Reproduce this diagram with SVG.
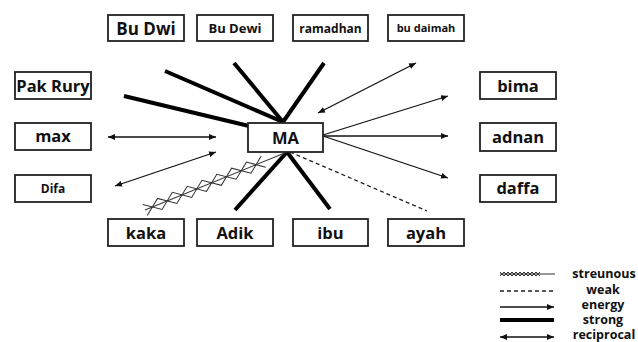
<svg xmlns="http://www.w3.org/2000/svg" width="638" height="342" viewBox="0 0 638 342">
<style>
.box{fill:#fff;stroke:#222;stroke-width:1.8}
.t{font-family:"Open Sans","Liberation Sans",sans-serif;font-weight:bold;fill:#111;text-anchor:middle;font-size:16.5px}
.strong{stroke:#000;stroke-width:4;fill:none}
.thin{stroke:#111;stroke-width:1.3;fill:none}
.weak{stroke:#222;stroke-width:1.3;stroke-dasharray:4 3;fill:none}
.st{stroke:#333;stroke-width:1;fill:none}
.lg{font-family:"Open Sans","Liberation Sans",sans-serif;font-weight:bold;fill:#111;text-anchor:middle;font-size:12.5px}
</style>
<defs>
<marker id="arr" viewBox="0 0 7 6" refX="7" refY="3" markerWidth="7" markerHeight="6" markerUnits="userSpaceOnUse" orient="auto-start-reverse">
<path d="M0,0 L7,3 L0,6 z" fill="#111"/>
</marker>
</defs>
<g id="connectors">
<line class="strong" x1="124" y1="96" x2="249" y2="126"/>
<line class="strong" x1="165" y1="71" x2="283" y2="122"/>
<line class="strong" x1="234" y1="63" x2="283" y2="122"/>
<line class="strong" x1="324" y1="63" x2="283" y2="122"/>
<line class="strong" x1="287" y1="152" x2="235" y2="210"/>
<line class="strong" x1="287" y1="152" x2="330" y2="209"/>
<line class="weak" x1="290" y1="152" x2="427" y2="211"/>
<line class="thin" x1="108" y1="137" x2="216" y2="137" marker-start="url(#arr)" marker-end="url(#arr)"/>
<line class="thin" x1="115" y1="186" x2="216" y2="152" marker-start="url(#arr)" marker-end="url(#arr)"/>
<line class="thin" x1="318" y1="113" x2="416" y2="63" marker-start="url(#arr)" marker-end="url(#arr)"/>
<line class="thin" x1="323" y1="135" x2="448" y2="96" marker-end="url(#arr)"/>
<line class="thin" x1="323" y1="136" x2="448" y2="136" marker-end="url(#arr)"/>
<line class="thin" x1="323" y1="136" x2="448" y2="178" marker-end="url(#arr)"/>
<g transform="translate(145,210) rotate(-22.2)">
<line class="st" x1="0" y1="0" x2="153" y2="0"/>
<polyline class="st" points="0,-6 16,6 32,-6 48,6 64,-6 80,6 96,-6 112,6 128,-6"/>
<polyline class="st" points="0,6 16,-6 32,6 48,-6 64,6 80,-6 96,6 112,-6 128,6"/>
</g>
</g>
<g id="BuDwi"><rect class="box" x="108" y="15" width="76" height="26"/><text class="t" x="146" y="34.5" style="font-size:17px">Bu Dwi</text></g>
<g id="BuDewi"><rect class="box" x="197" y="15" width="76" height="26"/><text class="t" x="235" y="33" style="font-size:13px">Bu Dewi</text></g>
<g id="ramadhan"><rect class="box" x="293" y="15" width="75" height="26"/><text class="t" x="330.5" y="32.5" style="font-size:12px">ramadhan</text></g>
<g id="budaimah"><rect class="box" x="388" y="15" width="76" height="26"/><text class="t" x="426" y="32" style="font-size:11px">bu daimah</text></g>
<g id="PakRury"><rect class="box" x="15" y="72" width="76" height="27"/><text class="t" x="53" y="92">Pak Rury</text></g>
<g id="bima"><rect class="box" x="480" y="72" width="76" height="27"/><text class="t" x="518" y="91.5">bima</text></g>
<g id="max"><rect class="box" x="15" y="123" width="76" height="27"/><text class="t" x="53" y="142">max</text></g>
<g id="MA"><rect class="box" x="248" y="123" width="75" height="29"/><text class="t" x="285.5" y="143.5">MA</text></g>
<g id="adnan"><rect class="box" x="480" y="123" width="76" height="28"/><text class="t" x="518" y="142.5">adnan</text></g>
<g id="Difa"><rect class="box" x="15" y="175" width="76" height="27"/><text class="t" x="53" y="193" style="font-size:12px">Difa</text></g>
<g id="daffa"><rect class="box" x="480" y="175" width="76" height="27"/><text class="t" x="518" y="194">daffa</text></g>
<g id="kaka"><rect class="box" x="108" y="219" width="76" height="27"/><text class="t" x="146" y="238.5">kaka</text></g>
<g id="Adik"><rect class="box" x="197" y="219" width="76" height="27"/><text class="t" x="235" y="238.5">Adik</text></g>
<g id="ibu"><rect class="box" x="293" y="219" width="75" height="27"/><text class="t" x="330.5" y="238.5">ibu</text></g>
<g id="ayah"><rect class="box" x="388" y="219" width="76" height="27"/><text class="t" x="426" y="238.5">ayah</text></g>
<g id="legend">
<line class="st" x1="500" y1="274" x2="555" y2="274"/>
<polyline class="st" points="500,272 504,276 508,272 512,276 516,272 520,276 524,272 528,276 532,272 536,276 540,272"/>
<polyline class="st" points="500,276 504,272 508,276 512,272 516,276 520,272 524,276 528,272 532,276 536,272 540,276"/>
<line class="weak" x1="500" y1="291" x2="554" y2="291"/>
<line class="thin" x1="500" y1="307" x2="554" y2="307" marker-end="url(#arr)"/>
<line class="strong" x1="500" y1="320" x2="554" y2="320"/>
<line class="thin" x1="500" y1="337" x2="554" y2="337" marker-start="url(#arr)" marker-end="url(#arr)"/>
<text class="lg" x="604" y="278">streunous</text>
<text class="lg" x="603" y="294">weak</text>
<text class="lg" x="603" y="309">energy</text>
<text class="lg" x="603" y="324">strong</text>
<text class="lg" x="604" y="339">reciprocal</text>
</g>
</svg>
